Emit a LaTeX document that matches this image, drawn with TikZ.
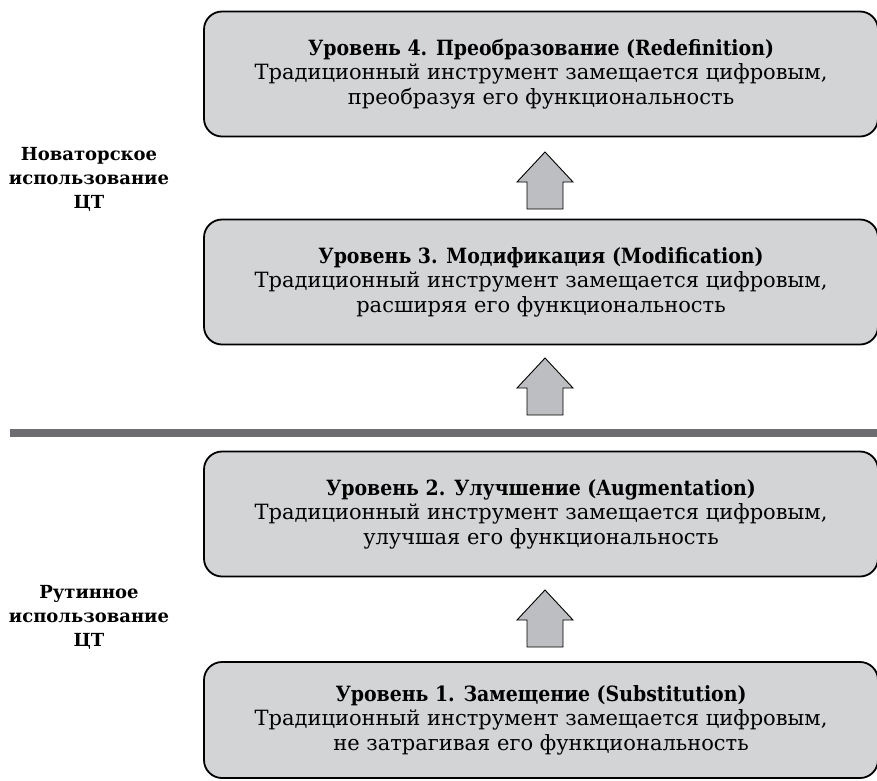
\documentclass[tikz,border=0pt]{standalone}
\usepackage{fontspec}
\setmainfont{DejaVu Serif}
\newfontfamily\titlefont{DejaVu Serif Condensed}
\usetikzlibrary{positioning}
\definecolor{boxgray}{HTML}{D3D4D6}
\definecolor{arrowgray}{HTML}{BDBEC1}
\definecolor{linegray}{HTML}{6C6C71}
\newcommand{\leveltitle}[1]{{\titlefont\bfseries #1}}
\tikzset{levelbox/.style={draw=black, line width=1.8pt, fill=boxgray, rounded corners=18pt,
    minimum width=674pt, minimum height=125pt, align=center, inner sep=0pt,
    font=\fontsize{21}{24.5}\selectfont},
  sidelabel/.style={align=center, font=\fontsize{18}{24}\selectfont\bfseries},
  blockarrow/.style={draw=black, line width=0.9pt, fill=arrowgray, line join=miter}}
\begin{document}
\begin{tikzpicture}[x=1pt, y=-1pt]
  \useasboundingbox (0,0) rectangle (877,780);
  % Stufen
  \node[levelbox] (lev4) at (541,74) {\leveltitle{Уровень 4. Преобразование (Redefinition)}\\
    Традиционный инструмент замещается цифровым,\\ преобразуя его функциональность};
  \node[levelbox] (lev3) at (541,282) {\leveltitle{Уровень 3. Модификация (Modification)}\\
    Традиционный инструмент замещается цифровым,\\ расширяя его функциональность};
  \node[levelbox] (lev2) at (541,514) {\leveltitle{Уровень 2. Улучшение (Augmentation)}\\
    Традиционный инструмент замещается цифровым,\\ улучшая его функциональность};
  \node[levelbox, minimum height=116pt] (lev1) at (541,720) {\leveltitle{Уровень 1. Замещение (Substitution)}\\
    Традиционный инструмент замещается цифровым,\\ не затрагивая его функциональность};
  % Trennlinie
  \coordinate (sepL) at (10,433);
  \coordinate (sepR) at (877,433);
  \draw[linegray, line width=8pt] (sepL) -- (sepR);
  % Pfeile
  \foreach \ya in {152,358,590}
    \draw[blockarrow] (545,\ya) -- ++(28,30) -- ++(-10,0) -- ++(0,27) -- ++(-36,0)
      -- ++(0,-27) -- ++(-10,0) -- cycle;
  % Beschriftung links
  \node[sidelabel] (innov) at (89,179) {Новаторское\\ использование\\ ЦТ};
  \node[sidelabel] (rout) at (89,617) {Рутинное\\ использование\\ ЦТ};
\end{tikzpicture}
\end{document}
